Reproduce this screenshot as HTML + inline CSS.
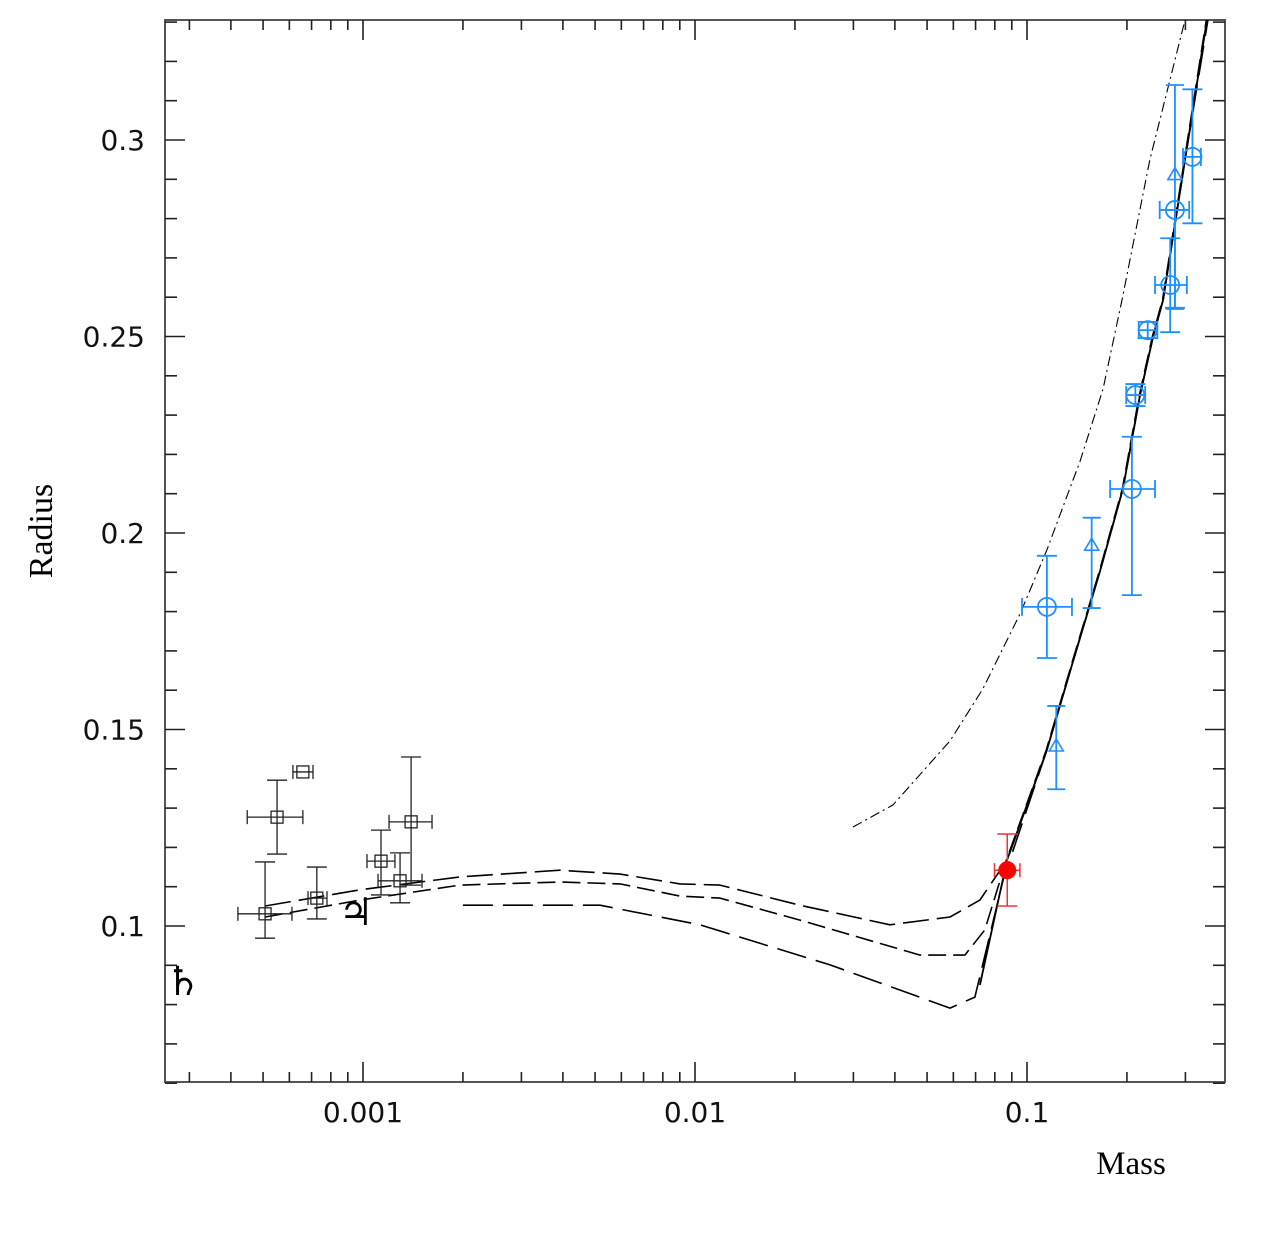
<!DOCTYPE html>
<html><head><meta charset="utf-8"><style>
html,body{margin:0;padding:0;background:#fff;}
</style></head><body>
<svg id="chart" width="1280" height="1234" xmlns="http://www.w3.org/2000/svg">
<rect x="165" y="20" width="1060" height="1062" fill="none" stroke="#555" stroke-width="2"/>
<g id="ticks" stroke="#222" stroke-width="1.6"></g>
<g id="labels" font-size="28" fill="#111" style="font-family:'DejaVu Sans',sans-serif"></g>
<g id="curves" fill="none" stroke="#000"></g>
<g id="points"></g>
<text x="52" y="531" font-size="34" transform="rotate(-90 52 531)" text-anchor="middle" style="font-family:'Liberation Serif',serif">Radius</text>
<text x="1131" y="1174" font-size="33" text-anchor="middle" style="font-family:'Liberation Serif',serif">Mass</text>
<text x="183" y="995" font-size="40" text-anchor="middle" style="font-family:'DejaVu Serif',serif">♄</text>
<text x="356" y="925" font-size="38" text-anchor="middle" style="font-family:'DejaVu Serif',serif">♃</text>
</svg>
<script>
const yTicks=["0.1","0.15","0.2","0.25","0.3"];
const xTicks=["0.001","0.01","0.1"];
// curves: log10(mass), radius
const curveA_m=[-3.295,-3.009,-2.708,-2.407,-2.226,-2.045,-1.925,-1.684,-1.413,-1.232,-1.142,-1.060,-0.940,-0.861,-0.780,-0.711,-0.660,-0.620,-0.590,-0.524,-0.458];
const curveA_r=[0.1051,0.1092,0.1125,0.1142,0.1132,0.1107,0.1104,0.1053,0.1003,0.1023,0.1066,0.1168,0.1448,0.1674,0.1903,0.2112,0.2349,0.2501,0.2593,0.2949,0.3305];
const curveB_m=[-3.295,-3.009,-2.708,-2.407,-2.226,-2.045,-1.925,-1.684,-1.322,-1.187,-1.127,-1.062,-0.942,-0.863,-0.782,-0.713,-0.662,-0.622,-0.592,-0.526,-0.460];
const curveB_r=[0.1023,0.1066,0.1104,0.1112,0.1107,0.1076,0.1071,0.1015,0.0926,0.0926,0.0990,0.1168,0.1448,0.1674,0.1903,0.2112,0.2349,0.2501,0.2593,0.2949,0.3305];
const curveC_m=[-2.699,-2.286,-1.985,-1.593,-1.232,-1.157,-1.072,-0.940,-0.861,-0.780,-0.711,-0.660,-0.620,-0.590,-0.524,-0.455];
const curveC_r=[0.1053,0.1053,0.1003,0.0901,0.0791,0.0819,0.1117,0.1448,0.1674,0.1903,0.2112,0.2349,0.2501,0.2593,0.2949,0.3305];
const solid_m=[-1.142,-1.060,-0.940,-0.861,-0.780,-0.711,-0.660,-0.620,-0.590,-0.524,-0.458];
const solid_r=[0.0850,0.1168,0.1448,0.1674,0.1903,0.2112,0.2349,0.2501,0.2593,0.2949,0.3305];
const dashdot_m=[-1.524,-1.404,-1.232,-1.133,-1.021,-0.940,-0.840,-0.771,-0.714,-0.630,-0.524];
const dashdot_r=[0.1252,0.1308,0.1471,0.1603,0.1794,0.1957,0.2183,0.2366,0.2593,0.2949,0.3305];
// black squares: mass, mLo, mHi, radius, rLo, rHi
const sq_m=[0.000507,0.000551,0.000659,0.000726,0.001133,0.001293,0.001396];
const sq_mlo=[0.000420,0.000448,0.000615,0.000683,0.001028,0.001110,0.001198];
const sq_mhi=[0.000611,0.000659,0.000707,0.000779,0.001248,0.001506,0.001614];
const sq_r=[0.1031,0.1277,0.1392,0.1071,0.1165,0.1115,0.1265];
const sq_rlo=[0.0969,0.1183,0.1392,0.1018,0.1079,0.1059,0.1104];
const sq_rhi=[0.1163,0.1371,0.1392,0.1150,0.1244,0.1186,0.1430];
// blue circles
const ci_m=[0.1148,0.207,0.212,0.231,0.270,0.279,0.315];
const ci_mlo=[0.0966,0.178,0.199,0.217,0.243,0.251,0.295];
const ci_mhi=[0.1366,0.243,0.227,0.247,0.303,0.308,0.334];
const ci_r=[0.1812,0.2112,0.2351,0.2516,0.2631,0.2822,0.2957];
const ci_rlo=[0.1682,0.1842,0.2323,0.2496,0.2511,0.2573,0.2788];
const ci_rhi=[0.1942,0.2245,0.2379,0.2537,0.2750,0.2822,0.3129];
// blue triangles
const tr_m=[0.1225,0.1566,0.279];
const tr_r=[0.1458,0.1969,0.2912];
const tr_rlo=[0.1348,0.1809,0.2570];
const tr_rhi=[0.1560,0.2039,0.3140];
// red point
const red_m=[0.0872];const red_mlo=[0.0798];const red_mhi=[0.0952];
const red_r=[0.1142];const red_rlo=[0.1051];const red_rhi=[0.1234];

const NS="http://www.w3.org/2000/svg";
const X0=363,DEC=332,Y0=926,YS=3930;
function xl(lm){return X0+DEC*(lm+3);}
function xs(m){return xl(Math.log10(m));}
function ys(r){return Y0-(r-0.1)*YS;}
function mk(tag,parent,attrs){const e=document.createElementNS(NS,tag);for(const k in attrs)e.setAttribute(k,attrs[k]);document.getElementById(parent).appendChild(e);return e;}
for(let i=6;i<=33;i++){const r=i/100;const y=ys(r);const major=i%5===0;const L=major?20:12;
 let t=mk('line','ticks',{x1:165,y1:y,x2:165+L,y2:y});
 
 
 t=mk('line','ticks',{x1:1225,y1:y,x2:1225-L,y2:y});
 
 }
for(let d=-4;d<=-1;d++){for(let k=1;k<=9;k++){const x=xl(d+Math.log10(k));if(x<166||x>1224)continue;const L=k===1?20:10;
 let t=mk('line','ticks',{x1:x,y1:1082,x2:x,y2:1082-L});
 
 
 t=mk('line','ticks',{x1:x,y1:20,x2:x,y2:20+L});
 
 }}
yTicks.forEach(s=>{const t=mk('text','labels',{x:145,y:ys(parseFloat(s))+10,'text-anchor':'end'});t.textContent=s;
 
 });
xTicks.forEach(s=>{const t=mk('text','labels',{x:xs(parseFloat(s)),y:1122,'text-anchor':'middle'});t.textContent=s;
 
 });
function curve(ms,rs,dash,w,name){const d=ms.map((m,i)=>(i?'L':'M')+xl(m).toFixed(1)+','+ys(rs[i]).toFixed(1)).join('');
 const p=mk('path','curves',{d:d,'stroke-width':w,'stroke-dasharray':dash,'stroke-linejoin':'round'});
 
 }
curve(curveA_m,curveA_r,'26,8',1.6,'model-curve-upper-dashed');
curve(curveB_m,curveB_r,'18,7',1.6,'model-curve-middle-dashed');
curve(curveC_m,curveC_r,'30,10',1.6,'model-curve-lower-dashed');
curve(solid_m,solid_r,'none',1.8,'model-curve-solid');
curve(dashdot_m,dashdot_r,'10,4,2,4',1.1,'model-curve-dash-dot');
function err(x1,y1,x2,y2,col,cap,horiz,w){
 mk('line','points',{x1:x1,y1:y1,x2:x2,y2:y2,stroke:col,'stroke-width':w});
 if(horiz){mk('line','points',{x1:x1,y1:y1-cap,x2:x1,y2:y1+cap,stroke:col,'stroke-width':w});mk('line','points',{x1:x2,y1:y2-cap,x2:x2,y2:y2+cap,stroke:col,'stroke-width':w});}
 else{mk('line','points',{x1:x1-cap,y1:y1,x2:x1+cap,y2:y1,stroke:col,'stroke-width':w});mk('line','points',{x1:x2-cap,y1:y2,x2:x2+cap,y2:y2,stroke:col,'stroke-width':w});}}
sq_m.forEach((m,i)=>{const x=xs(m),y=ys(sq_r[i]);
 err(xs(sq_mlo[i]),y,xs(sq_mhi[i]),y,'#222',7,true,1.3);
 if(sq_rlo[i]!==sq_rhi[i])err(x,ys(sq_rhi[i]),x,ys(sq_rlo[i]),'#222',10,false,1.3);
 const s=mk('rect','points',{x:x-6,y:y-6,width:12,height:12,fill:'none',stroke:'#222','stroke-width':1.3});
 
 });
const BL='#1e8fff';
ci_m.forEach((m,i)=>{const x=xs(m),y=ys(ci_r[i]);
 err(xs(ci_mlo[i]),y,xs(ci_mhi[i]),y,BL,9,true,1.8);
 err(x,ys(ci_rhi[i]),x,ys(ci_rlo[i]),BL,10,false,1.8);
 const c=mk('circle','points',{cx:x,cy:y,r:9,fill:'none',stroke:BL,'stroke-width':1.8});
 
 });
tr_m.forEach((m,i)=>{const x=xs(m),y=ys(tr_r[i]);
 err(x,ys(tr_rhi[i]),x,ys(tr_rlo[i]),BL,9,false,1.8);
 const t=mk('path','points',{d:`M${x-7},${y+5}L${x},${y-7}L${x+7},${y+5}Z`,fill:'none',stroke:BL,'stroke-width':1.6});
 
 });
red_m.forEach((m,i)=>{const x=xs(m),y=ys(red_r[i]);
 err(xs(red_mlo[i]),y,xs(red_mhi[i]),y,'#e33',7,true,1.5);
 err(x,ys(red_rhi[i]),x,ys(red_rlo[i]),'#e33',10,false,1.5);
 const c=mk('circle','points',{cx:x,cy:y,r:9,fill:'#f00'});
 
 });
</script>
</body></html>
